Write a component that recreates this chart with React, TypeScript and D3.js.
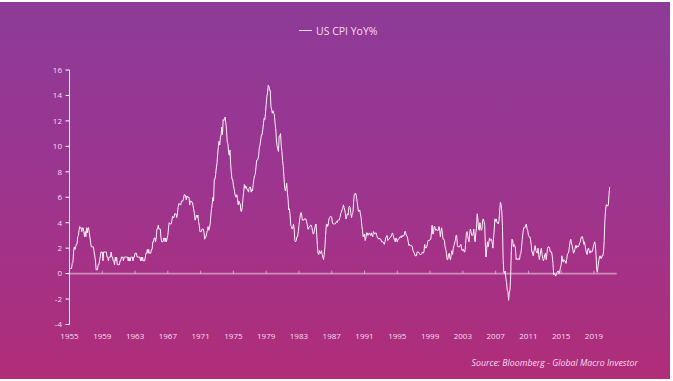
import React from "react";
import * as d3 from "d3";

// Monthly US CPI YoY %, starting Dec 1955
const cpi1955 = [0.4];
const cpi1956_1965 = [
  0.4, 0.4, 0.4, 0.8, 0.9, 1.7, 2.1, 1.9, 2.1, 2.3, 2.3, 2.9,
  3.0, 3.4, 3.7, 3.6, 3.6, 3.3, 3.6, 3.6, 3.3, 2.9, 3.3, 2.9,
  3.6, 3.2, 3.6, 3.6, 3.2, 2.8, 2.4, 2.1, 2.1, 2.1, 2.1, 1.7,
  1.4, 1.0, 0.3, 0.3, 0.3, 0.7, 0.7, 1.0, 1.3, 1.7, 1.7, 1.7,
  1.0, 1.7, 1.7, 1.7, 1.7, 1.7, 1.3, 1.3, 1.0, 1.3, 1.3, 1.3,
  1.7, 1.3, 1.3, 1.0, 1.0, 0.7, 1.3, 1.0, 1.3, 0.7, 0.7, 0.7,
  0.7, 1.0, 1.0, 1.3, 1.3, 1.3, 1.0, 1.3, 1.3, 1.3, 1.3, 1.3,
  1.3, 1.0, 1.3, 1.0, 1.0, 1.3, 1.3, 1.3, 1.0, 1.3, 1.3, 1.6,
  1.6, 1.6, 1.3, 1.3, 1.3, 1.3, 1.3, 1.0, 1.3, 1.0, 1.3, 1.0,
  1.0, 1.0, 1.3, 1.6, 1.6, 1.9, 1.6, 1.9, 1.6, 1.6, 1.6, 1.9,
];
const cpi1966_1975 = [
  1.9, 2.5, 2.5, 2.8, 2.8, 2.5, 2.8, 3.5, 3.5, 3.8, 3.5, 3.5,
  3.5, 2.8, 2.5, 2.5, 2.5, 2.8, 2.8, 2.5, 2.8, 2.5, 2.8, 3.0,
  3.6, 4.0, 3.9, 3.9, 3.9, 4.2, 4.5, 4.4, 4.4, 4.7, 4.7, 4.7,
  4.4, 4.7, 5.2, 5.5, 5.5, 5.4, 5.4, 5.7, 5.7, 5.7, 5.9, 6.2,
  6.2, 6.1, 5.8, 6.1, 6.0, 6.0, 6.0, 5.4, 5.7, 5.7, 5.6, 5.6,
  5.3, 5.0, 4.7, 4.2, 4.4, 4.6, 4.4, 4.6, 4.1, 3.8, 3.3, 3.3,
  3.3, 3.5, 3.5, 3.5, 3.2, 2.7, 2.9, 2.9, 3.2, 3.4, 3.7, 3.4,
  3.6, 3.9, 4.6, 5.1, 5.5, 6.0, 5.7, 7.4, 7.4, 7.8, 8.3, 8.7,
  9.4, 10.0, 10.4, 10.1, 10.7, 10.9, 11.5, 10.9, 12.1, 12.0, 12.2, 12.3,
  11.8, 11.2, 10.3, 10.2, 9.5, 9.3, 9.7, 8.6, 7.9, 7.4, 7.4, 6.9,
];
const cpi1976_1985 = [
  6.7, 6.3, 6.1, 6.0, 6.2, 5.9, 5.4, 5.7, 5.5, 5.5, 4.9, 4.9,
  5.2, 5.9, 6.4, 7.0, 6.7, 6.9, 6.8, 6.6, 6.6, 6.4, 6.7, 6.8,
  6.8, 6.4, 6.6, 6.5, 7.0, 7.4, 7.7, 7.8, 8.3, 8.9, 8.9, 9.0,
  9.3, 9.9, 10.1, 10.5, 10.9, 10.9, 11.3, 11.8, 12.2, 12.1, 12.6, 13.3,
  13.9, 14.2, 14.8, 14.7, 14.4, 14.4, 13.1, 12.9, 12.6, 12.8, 12.6, 12.5,
  11.8, 11.4, 10.5, 10.0, 9.8, 9.6, 10.8, 10.8, 11.0, 10.1, 9.6, 8.9,
  8.4, 7.6, 6.8, 6.5, 6.7, 7.1, 6.4, 5.9, 5.0, 5.1, 4.6, 3.8,
  3.7, 3.5, 3.6, 3.9, 3.5, 2.6, 2.5, 2.6, 2.9, 2.9, 3.3, 3.8,
  4.2, 4.6, 4.8, 4.6, 4.2, 4.2, 4.2, 4.3, 4.3, 4.3, 4.1, 3.9,
  3.5, 3.5, 3.7, 3.7, 3.8, 3.8, 3.6, 3.3, 3.1, 3.2, 3.5, 3.8,
];
const cpi1986_1995 = [
  3.9, 3.1, 2.2, 1.6, 1.5, 1.8, 1.6, 1.6, 1.8, 1.5, 1.3, 1.1,
  1.5, 2.1, 3.0, 3.8, 3.9, 3.7, 3.9, 4.3, 4.4, 4.5, 4.5, 4.4,
  4.0, 3.9, 3.9, 3.9, 3.9, 4.0, 4.1, 4.0, 4.2, 4.2, 4.2, 4.4,
  4.7, 4.8, 5.0, 5.1, 5.4, 5.2, 5.0, 4.7, 4.3, 4.5, 4.7, 4.6,
  5.2, 5.3, 5.2, 4.7, 4.4, 4.7, 4.8, 5.6, 6.2, 6.3, 6.3, 6.1,
  5.7, 5.3, 4.9, 4.9, 5.0, 4.7, 4.4, 3.8, 3.4, 2.9, 3.0, 3.1,
  2.6, 2.8, 3.2, 3.2, 3.0, 3.1, 3.2, 3.1, 3.0, 3.2, 3.0, 2.9,
  3.3, 3.2, 3.1, 3.2, 3.2, 3.0, 2.8, 2.8, 2.7, 2.8, 2.7, 2.7,
  2.5, 2.5, 2.5, 2.4, 2.3, 2.5, 2.8, 2.9, 3.0, 2.6, 2.7, 2.7,
  2.8, 2.9, 2.9, 3.1, 3.2, 3.0, 2.8, 2.6, 2.5, 2.8, 2.6, 2.5,
];
const cpi1996_2005 = [
  2.7, 2.7, 2.8, 2.9, 2.9, 2.8, 3.0, 2.9, 3.0, 3.0, 3.3, 3.3,
  3.0, 3.0, 2.8, 2.5, 2.2, 2.3, 2.2, 2.2, 2.2, 2.1, 1.8, 1.7,
  1.6, 1.4, 1.4, 1.4, 1.7, 1.7, 1.7, 1.6, 1.5, 1.5, 1.5, 1.6,
  1.7, 1.6, 1.7, 2.3, 2.1, 2.0, 2.1, 2.3, 2.6, 2.6, 2.6, 2.7,
  2.7, 3.2, 3.8, 3.1, 3.2, 3.7, 3.7, 3.4, 3.5, 3.4, 3.4, 3.4,
  3.7, 3.5, 2.9, 3.3, 3.6, 3.2, 2.7, 2.7, 2.6, 2.1, 1.9, 1.6,
  1.1, 1.1, 1.5, 1.6, 1.2, 1.1, 1.5, 1.8, 1.5, 2.0, 2.2, 2.4,
  2.6, 3.0, 3.0, 2.2, 2.1, 2.1, 2.1, 2.2, 2.3, 2.0, 1.8, 1.9,
  1.9, 1.7, 1.7, 2.3, 3.1, 3.3, 3.0, 2.7, 2.5, 3.2, 3.5, 3.3,
  3.0, 3.0, 3.1, 3.5, 2.8, 2.5, 3.2, 3.6, 4.7, 4.3, 3.5, 3.4,
];
const cpi2006_2015 = [
  4.0, 3.6, 3.4, 3.5, 4.2, 4.3, 4.1, 3.8, 2.1, 1.3, 2.0, 2.5,
  2.1, 2.4, 2.8, 2.6, 2.7, 2.7, 2.4, 2.0, 2.8, 3.5, 4.3, 4.1,
  4.3, 4.0, 4.0, 3.9, 4.2, 5.0, 5.6, 5.4, 4.9, 3.7, 1.1, 0.1,
  0.0, 0.2, -0.4, -0.7, -1.3, -1.4, -2.1, -1.5, -1.3, -0.2, 1.8, 2.7,
  2.6, 2.1, 2.3, 2.2, 2.0, 1.1, 1.2, 1.1, 1.1, 1.2, 1.1, 1.5,
  1.6, 2.1, 2.7, 3.2, 3.6, 3.6, 3.6, 3.8, 3.9, 3.5, 3.4, 3.0,
  2.9, 2.9, 2.7, 2.3, 1.7, 1.7, 1.4, 1.7, 2.0, 2.2, 1.8, 1.7,
  1.6, 2.0, 1.5, 1.1, 1.4, 1.8, 2.0, 1.5, 1.2, 1.0, 1.2, 1.5,
  1.6, 1.1, 1.5, 2.0, 2.1, 2.1, 2.0, 1.7, 1.7, 1.7, 1.3, 0.8,
  -0.1, 0.0, -0.1, -0.2, 0.0, 0.1, 0.2, 0.2, 0.0, 0.2, 0.5, 0.7,
];
const cpi2016_2021 = [
  1.4, 1.0, 0.9, 1.1, 1.0, 1.0, 0.8, 1.1, 1.5, 1.6, 1.7, 2.1,
  2.5, 2.7, 2.4, 2.2, 1.9, 1.6, 1.7, 1.9, 2.2, 2.0, 2.2, 2.1,
  2.1, 2.2, 2.4, 2.5, 2.8, 2.9, 2.9, 2.7, 2.3, 2.5, 2.2, 1.9,
  1.6, 1.5, 1.9, 2.0, 1.8, 1.6, 1.8, 1.7, 1.7, 1.8, 2.1, 2.3,
  2.5, 2.3, 1.5, 0.3, 0.1, 0.6, 1.0, 1.3, 1.4, 1.2, 1.2, 1.4,
  1.4, 1.7, 2.6, 4.2, 5.0, 5.4, 5.4, 5.3, 5.4, 6.2, 6.8,
];

const seriesValues = [
  ...cpi1955, ...cpi1956_1965, ...cpi1966_1975, ...cpi1976_1985,
  ...cpi1986_1995, ...cpi1996_2005, ...cpi2006_2015, ...cpi2016_2021,
];
const startDate = 1955 + 11 / 12; // Dec 1955
const endDomain = 2022.69;

const xTickYears = [1955, 1959, 1963, 1967, 1971, 1975, 1979, 1983, 1987, 1991, 1995, 1999, 2003, 2007, 2011, 2015, 2019];
const yTicks = [-4, -2, 0, 2, 4, 6, 8, 10, 12, 14, 16];
const legendLabel = "US CPI YoY%";
const sourceText = "Source: Bloomberg - Global Macro Investor";

const W = 673;
const H = 381;
const textColor = "#f6dcee";
const font = "'Open Sans', 'Noto Sans', sans-serif";

export default function App() {
  const x = d3.scaleLinear().domain([startDate, endDomain]).range([69.5, 616.7]);
  const y = d3.scaleLinear().domain([-4, 16]).range([324.5, 70]);
  const pts: [number, number][] = seriesValues.map((v, i) => [startDate + i / 12, v]);
  const line = d3.line<[number, number]>().x((d) => x(d[0])).y((d) => y(d[1]));

  return (
    <div style={{ position: "fixed", left: 0, top: 0, width: W, height: H, background: "#fff" }}>
      <svg width={W} height={H} style={{ display: "block" }}>
        <defs>
          <linearGradient id="bg" x1="0" y1="0" x2="0" y2="1">
            <stop offset="0%" stopColor="#8d3b98" />
            <stop offset="45%" stopColor="#9b3590" />
            <stop offset="100%" stopColor="#b02d79" />
          </linearGradient>
        </defs>
        <rect x={0} y={2} width={670} height={377} fill="url(#bg)" />

        {/* legend */}
        <line x1={299} x2={312} y1={30.5} y2={30.5} stroke={textColor} strokeWidth={1} />
        <text x={316} y={34.5} fill={textColor} fontFamily={font} fontSize={10.5}>{legendLabel}</text>

        {/* zero line */}
        <line x1={x(startDate)} x2={x(endDomain)} y1={y(0)} y2={y(0)} stroke="rgba(255,255,255,0.45)" strokeWidth={1.8} />
        {xTickYears.map((yr) => (
          <line key={"t" + yr} x1={x(yr + 11 / 12)} x2={x(yr + 11 / 12)} y1={y(0) - 3} y2={y(0)} stroke="rgba(255,255,255,0.5)" strokeWidth={1} />
        ))}

        {/* y axis */}
        <line x1={69.5} x2={69.5} y1={y(16)} y2={y(-4)} stroke="#ffffff" strokeWidth={1} />
        {yTicks.map((t) => (
          <g key={"y" + t}>
            <line x1={65.5} x2={69.5} y1={y(t)} y2={y(t)} stroke="#ffffff" strokeWidth={1} />
            <text x={62} y={y(t)} dy="0.35em" textAnchor="end" fill={textColor} fontFamily={font} fontSize={8}>{t}</text>
          </g>
        ))}

        {/* x labels */}
        {xTickYears.map((yr) => (
          <text key={"x" + yr} x={x(yr + 11 / 12)} y={339} textAnchor="middle" fill={textColor} fontFamily={font} fontSize={8}>{yr}</text>
        ))}

        {/* series */}
        <path d={line(pts) || ""} fill="none" stroke="#fff2fa" strokeWidth={1} strokeLinejoin="round" />

        {/* source */}
        <text x={638} y={366} textAnchor="end" fill={textColor} fontFamily={font} fontSize={8.8} fontStyle="italic">{sourceText}</text>
      </svg>
    </div>
  );
}
